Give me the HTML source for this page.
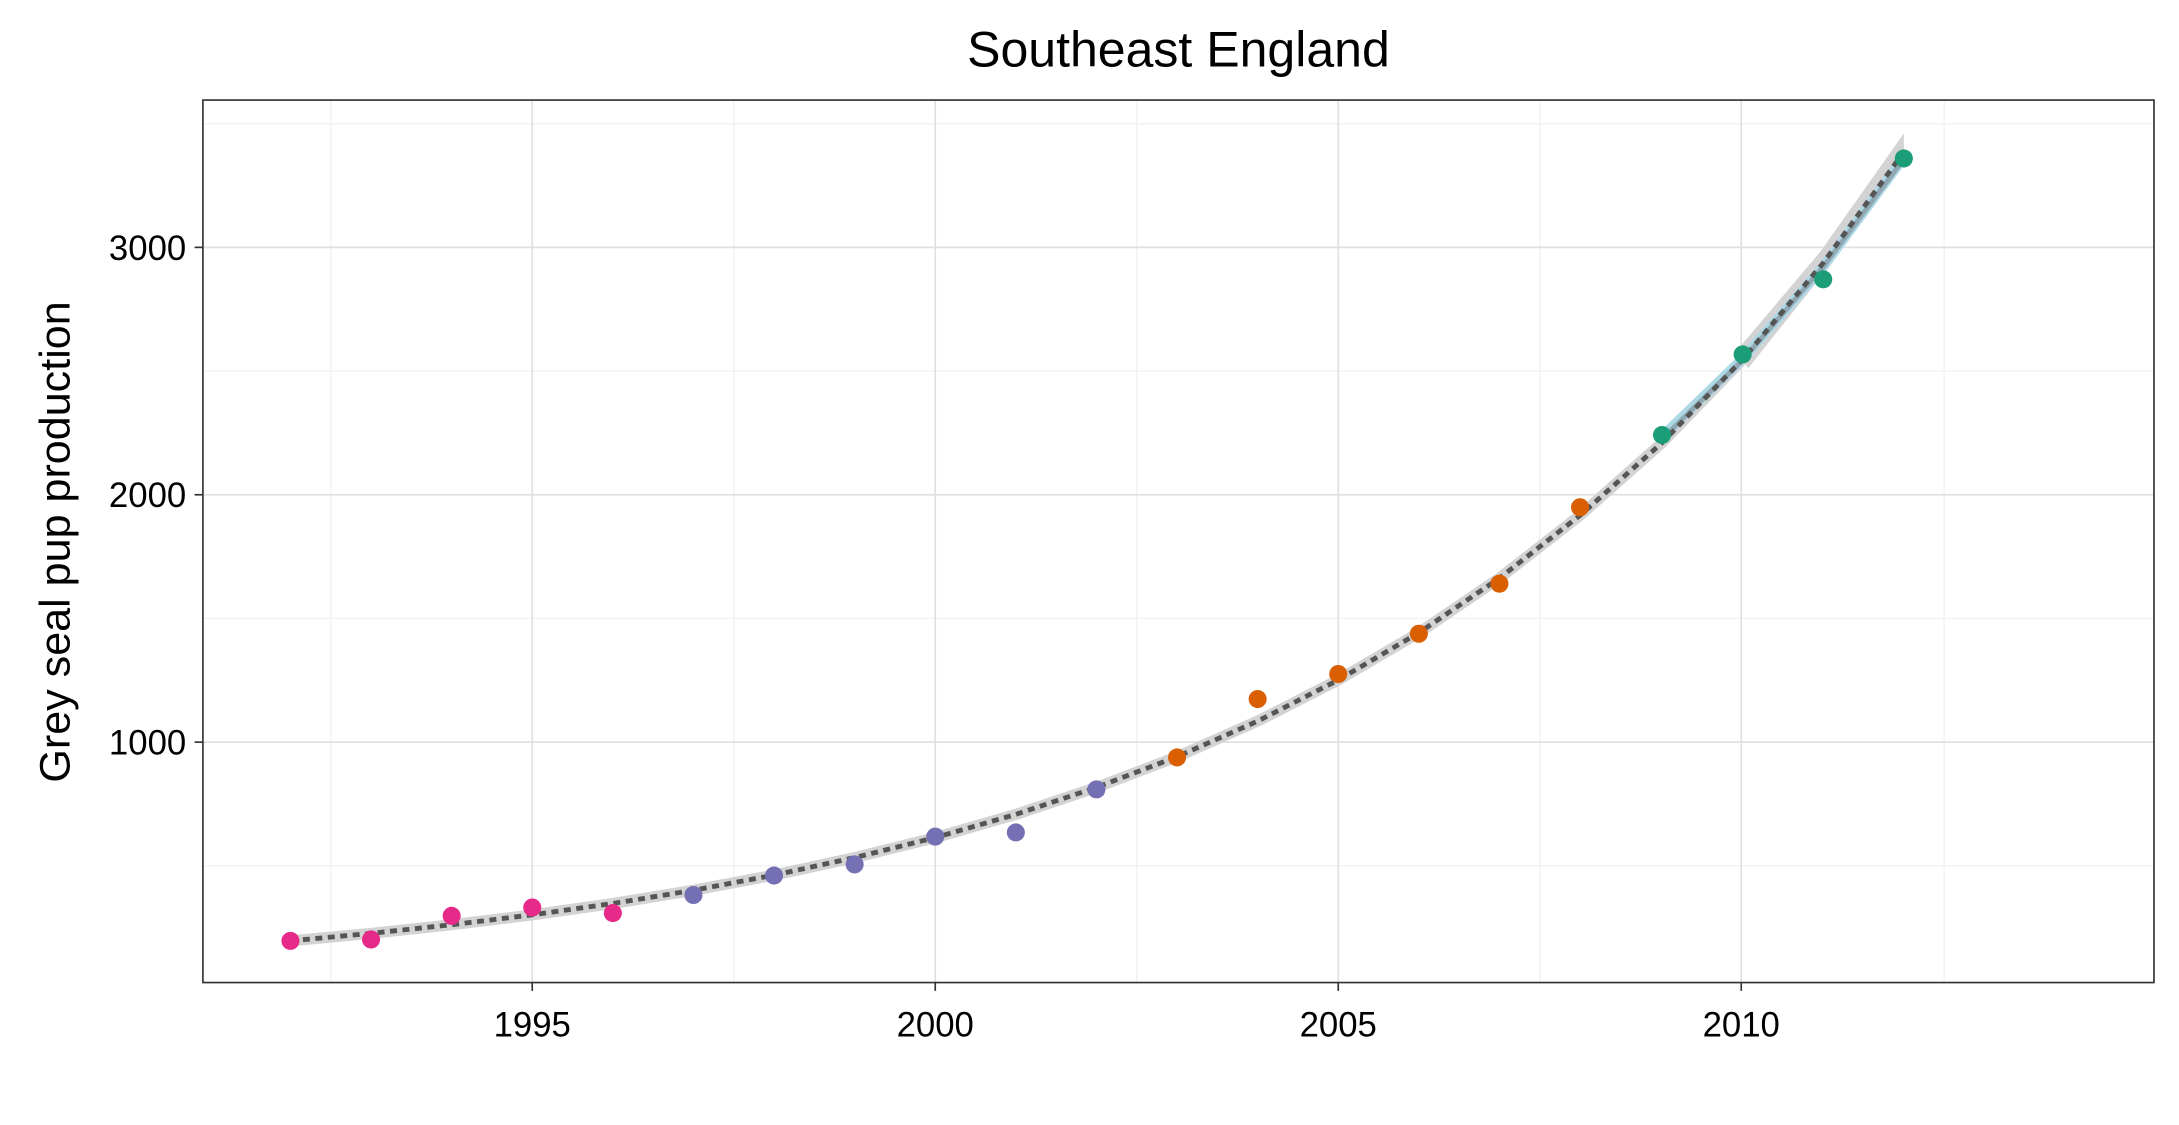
<!DOCTYPE html>
<html><head><meta charset="utf-8"><style>html,body{margin:0;padding:0;background:#fff}svg{display:block}</style></head>
<body>
<svg width="2179" height="1125" viewBox="0 0 1568 809.5" preserveAspectRatio="none" xmlns="http://www.w3.org/2000/svg" font-family="Liberation Sans, Arial, sans-serif">
<rect width="1568" height="809.5" fill="#fff"/>
<text x="848" y="48" font-size="36" text-anchor="middle" fill="#000">Southeast England</text>
<g stroke="#f2f2f2" stroke-width="1">
<line x1="238" y1="72" x2="238" y2="707"/><line x1="528" y1="72" x2="528" y2="707"/><line x1="818" y1="72" x2="818" y2="707"/><line x1="1108" y1="72" x2="1108" y2="707"/><line x1="1399" y1="72" x2="1399" y2="707"/>
<line x1="146" y1="89" x2="1550" y2="89"/><line x1="146" y1="267" x2="1550" y2="267"/><line x1="146" y1="445" x2="1550" y2="445"/><line x1="146" y1="623" x2="1550" y2="623"/>
</g>
<g stroke="#e0e0e0" stroke-width="1.2">
<line x1="383" y1="72" x2="383" y2="707"/><line x1="673" y1="72" x2="673" y2="707"/><line x1="963" y1="72" x2="963" y2="707"/><line x1="1253" y1="72" x2="1253" y2="707"/>
<line x1="146" y1="178" x2="1550" y2="178"/><line x1="146" y1="356" x2="1550" y2="356"/><line x1="146" y1="534" x2="1550" y2="534"/>
</g>
<polyline fill="none" stroke="#d3d3d3" stroke-width="8" stroke-linecap="butt" points="209,677 267,671.6 325,665.4 383,658.3 441,650.1 499,640.6 557,629.7 615,617.1 673,602.7 731,586 789,566.6 847,544.5 905,518.9 963,489.3 1021,455.3 1079,416 1137,370.8 1196,318.6 1254,258.6"/>
<path d="M1250,252 L1310,181 L1370,96 L1370,118 L1312,197 L1258,265 Z" fill="#d3d3d3"/>
<polyline fill="none" stroke="#add8e6" stroke-width="7" points="1198,312 1254,258 1312,192 1368,116"/>
<polyline fill="none" stroke="#8fa8b3" stroke-width="3.5" points="1198,314 1254,259 1312,192 1368,117"/>
<polyline fill="none" stroke="#555" stroke-width="3.5" stroke-dasharray="5,4" points="209,677 267,671.6 325,665.4 383,658.3 441,650.1 499,640.6 557,629.7 615,617.1 673,602.7 731,586 789,566.6 847,544.5 905,518.9 963,489.3 1021,455.3 1079,416 1137,370.8 1196,318.6 1254,258.6 1312,189.2 1370,109.3"/>
<g fill="#e7298a"><circle cx="209" cy="677" r="6.5"/><circle cx="267" cy="676" r="6.5"/><circle cx="325" cy="659" r="6.5"/><circle cx="383" cy="653" r="6.5"/><circle cx="441" cy="657" r="6.5"/></g>
<g fill="#7570b3"><circle cx="499" cy="644" r="6.5"/><circle cx="557" cy="630" r="6.5"/><circle cx="615" cy="622" r="6.5"/><circle cx="673" cy="602" r="6.5"/><circle cx="731" cy="599" r="6.5"/><circle cx="789" cy="568" r="6.5"/></g>
<g fill="#d95f02"><circle cx="847" cy="545" r="6.5"/><circle cx="905" cy="503" r="6.5"/><circle cx="963" cy="485" r="6.5"/><circle cx="1021" cy="456" r="6.5"/><circle cx="1079" cy="420" r="6.5"/><circle cx="1137" cy="365" r="6.5"/></g>
<g fill="#1b9e77"><circle cx="1196" cy="313" r="6.5"/><circle cx="1254" cy="255" r="6.5"/><circle cx="1312" cy="201" r="6.5"/><circle cx="1370" cy="114" r="6.5"/></g>
<rect x="146" y="72" width="1404" height="635" fill="none" stroke="#333" stroke-width="1.2"/>
<g stroke="#333" stroke-width="1.2">
<line x1="383" y1="707" x2="383" y2="713"/><line x1="673" y1="707" x2="673" y2="713"/><line x1="963" y1="707" x2="963" y2="713"/><line x1="1253" y1="707" x2="1253" y2="713"/>
<line x1="140" y1="178" x2="146" y2="178"/><line x1="140" y1="356" x2="146" y2="356"/><line x1="140" y1="534" x2="146" y2="534"/>
</g>
<g font-size="25" fill="#000" text-anchor="middle">
<text x="383" y="746">1995</text><text x="673" y="746">2000</text><text x="963" y="746">2005</text><text x="1253" y="746">2010</text>
</g>
<g font-size="25" fill="#000" text-anchor="end">
<text x="134" y="187">3000</text><text x="134" y="365">2000</text><text x="134" y="543">1000</text>
</g>
<text transform="translate(50,390) rotate(-90)" font-size="31" text-anchor="middle" fill="#000">Grey seal pup production</text>
</svg>
</body></html>
